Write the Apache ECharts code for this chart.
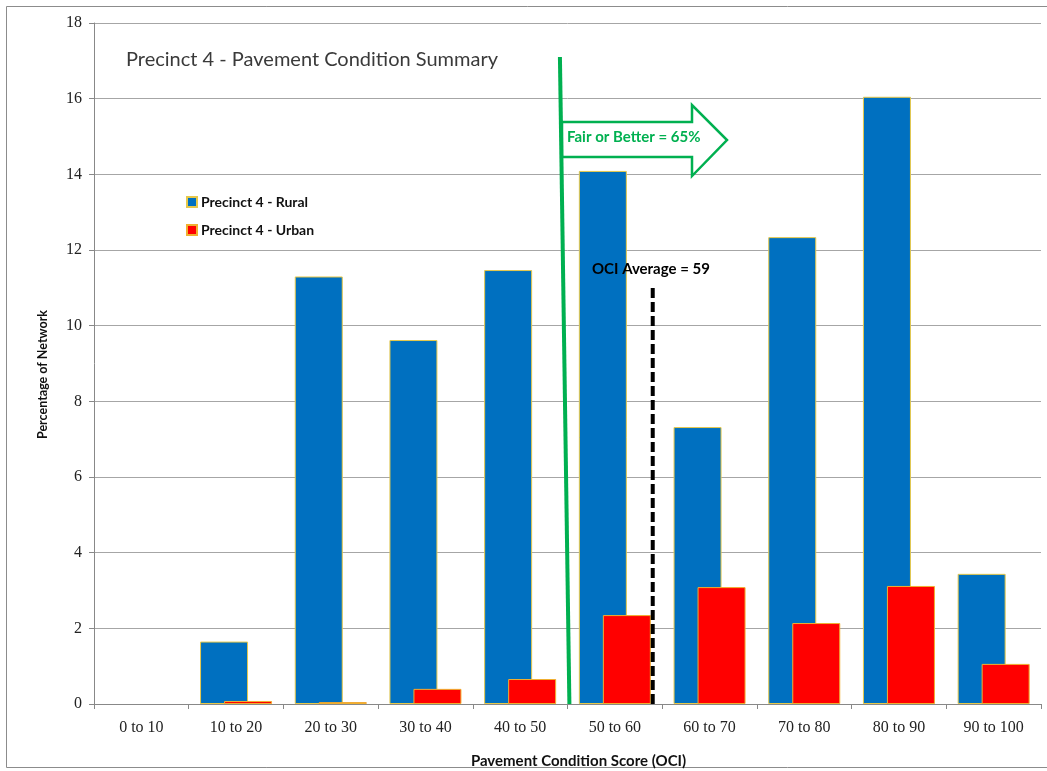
<!DOCTYPE html>
<html>
<head>
<meta charset="utf-8">
<script src="https://cdn.jsdelivr.net/npm/echarts@6/dist/echarts.min.js"></script>
<style>
html,body{margin:0;padding:0;background:#fff;}
#chart{width:1047px;height:771px;}
</style>
</head>
<body>
<div id="chart"></div>
<script>
const categories = ['0 to 10','10 to 20','20 to 30','30 to 40','40 to 50','50 to 60','60 to 70','70 to 80','80 to 90','90 to 100'];
const ruralValues = [0, 1.65, 11.3, 9.62, 11.47, 14.09, 7.32, 12.34, 16.05, 3.44];
const urbanValues = [0, 0.08, 0.05, 0.4, 0.66, 2.35, 3.09, 2.14, 3.12, 1.06];
const yTicks = [0, 2, 4, 6, 8, 10, 12, 14, 16, 18];
const fairLine = [[49.2, 17.1], [50.2, 0]];
const ociAverage = 59;
const ociLine = [[ociAverage, 0], [ociAverage, 11.1]];

const chart = echarts.init(document.getElementById('chart'));
const sans = 'Lato';
const serif = 'Liberation Serif';

// zero-height bars show no outline
const withoutZeroBorder = arr => arr.map(v => v === 0 ? {value: v, itemStyle: {borderWidth: 0}} : v);

chart.setOption({
  backgroundColor: '#ffffff',
  animation: false,
  title: {
    text: 'Precinct 4 - Pavement Condition Summary',
    left: 121, top: 45,
    textStyle: {fontFamily: sans, fontSize: 20, fontWeight: 'normal', color: '#3a3a3a'}
  },
  legend: {
    orient: 'vertical', left: 181, top: 190, itemGap: 14,
    itemWidth: 10, itemHeight: 10, icon: 'rect',
    data: ['Precinct 4 - Rural', 'Precinct 4 - Urban'],
    textStyle: {fontFamily: sans, fontSize: 14, fontWeight: 'bold', color: '#111', padding: [0, 0, 0, -1]}
  },
  grid: {left: 94, right: 6, top: 23, bottom: 67, containLabel: false, outerBoundsMode: 'none'},
  xAxis: [{
    type: 'category', data: categories,
    axisLine: {lineStyle: {color: '#888', width: 1}},
    axisTick: {show: true, length: 5, lineStyle: {color: '#888'}},
    axisLabel: {fontFamily: serif, fontSize: 16, color: '#222', margin: 16},
    name: 'Pavement Condition Score (OCI)', nameLocation: 'middle', nameGap: 50,
    nameTextStyle: {fontFamily: sans, fontSize: 15, fontWeight: 'bold', color: '#111', padding: [0, 0, 0, 22]}
  }, {
    type: 'value', min: 0, max: 100, show: false
  }],
  yAxis: {
    type: 'value', min: yTicks[0], max: yTicks[yTicks.length - 1], interval: 2,
    axisLine: {show: true, lineStyle: {color: '#888', width: 1}},
    axisTick: {show: true, length: 5, lineStyle: {color: '#888'}},
    axisLabel: {fontFamily: serif, fontSize: 16, color: '#222', margin: 12},
    splitLine: {lineStyle: {color: '#a6a6a6', width: 1}},
    name: 'Percentage of Network', nameLocation: 'middle', nameGap: 45,
    nameTextStyle: {fontFamily: sans, fontSize: 12.5, fontWeight: 'bold', color: '#111', padding: [0, 22, 0, 0]}
  },
  series: [{
    name: 'Precinct 4 - Rural', type: 'bar', data: withoutZeroBorder(ruralValues),
    barWidth: 48, barGap: '-50%',
    itemStyle: {color: '#0070C0', borderColor: '#E6C84A', borderWidth: 1}
  }, {
    name: 'Precinct 4 - Urban', type: 'bar', data: withoutZeroBorder(urbanValues),
    barWidth: 48, barGap: '-50%',
    itemStyle: {color: '#FF0000', borderColor: '#F0B030', borderWidth: 1}
  }, {
    name: 'fair', type: 'line', xAxisIndex: 1, data: fairLine,
    symbol: 'none', silent: true, z: 5,
    lineStyle: {color: '#00B050', width: 4}
  }, {
    name: 'oci', type: 'line', xAxisIndex: 1, data: ociLine,
    symbol: 'none', silent: true, z: 5,
    lineStyle: {color: '#000', width: 4, type: [10, 4]}
  }],
  graphic: [{
    type: 'rect', silent: true, z: -1,
    shape: {x: 6.5, y: 6.5, width: 1100, height: 761},
    style: {fill: 'none', stroke: '#8c8c8c', lineWidth: 1}
  }, {
    type: 'polygon', silent: true, z: 10,
    shape: {points: [[562, 122], [692, 122], [692, 105], [727, 140], [692, 176], [692, 157], [562, 157]]},
    style: {fill: 'rgba(255,255,255,0)', stroke: '#00B050', lineWidth: 2.5}
  }, {
    type: 'text', silent: true, z: 11, left: 567, top: 130,
    style: {text: 'Fair or Better = 65%', font: 'bold 15px Lato', fill: '#00B050'}
  }, {
    type: 'text', silent: true, z: 11, left: 592, top: 262,
    style: {text: 'OCI Average = ' + ociAverage, font: 'bold 15px Lato', fill: '#000'}
  }]
});
</script>
</body>
</html>
